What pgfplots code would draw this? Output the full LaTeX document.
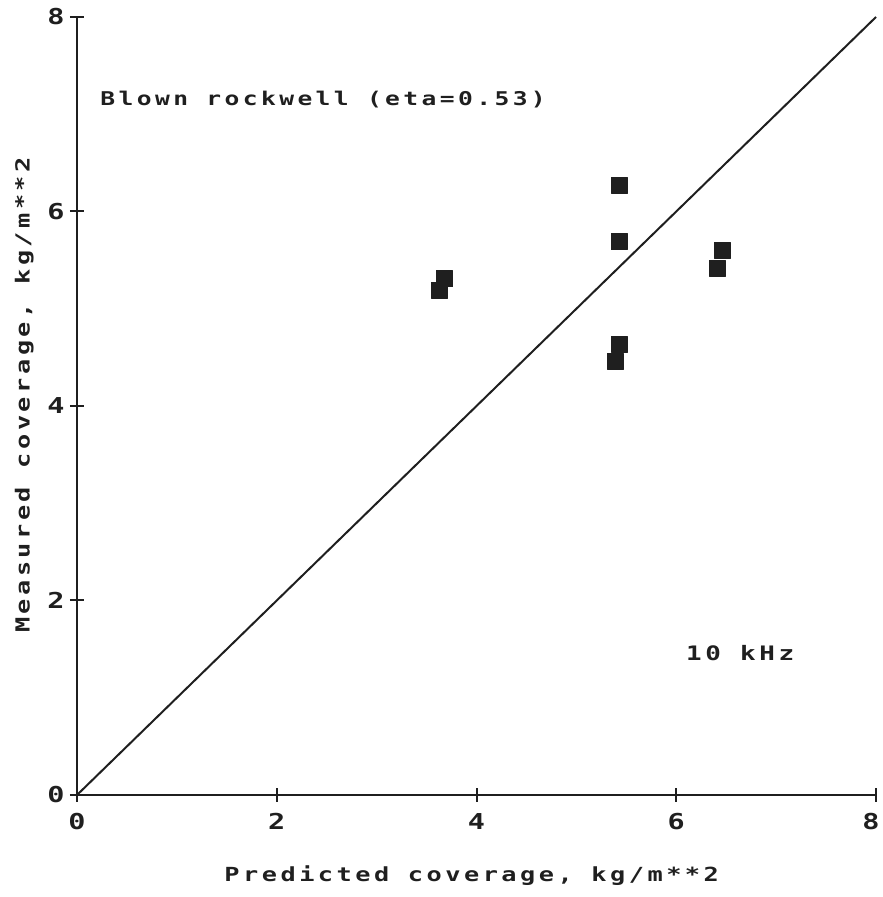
\documentclass[border=0pt]{standalone}
\usepackage{pgfplots}
\pgfplotsset{compat=1.18}
\usepackage{fontspec}
\setmainfont{DejaVu Sans Mono}[FakeStretch=1.3, LetterSpace=18]
\usetikzlibrary{calc}
\definecolor{ink}{gray}{0.12}
\begin{document}
\begin{tikzpicture}
\begin{axis}[name=ax,
  scale only axis, width=799bp, height=778bp,
  xmin=0, xmax=8, ymin=0, ymax=8,
  axis lines=left, axis line style={-, line width=2.8bp, ink},
  xtick={0,2,4,6,8}, ytick={0,2,4,6,8},
  xticklabels={0,2,4,6,{\hspace*{-10bp}8}},
  tick align=center, major tick length=14bp,
  tick style={line width=2bp, ink},
  /pgf/number format/assume math mode=true,
  tick label style={font=\fontsize{22}{26}\selectfont\bfseries, text=ink},
  xticklabel style={yshift=-8bp},
  yticklabel style={xshift=-2bp},
  xlabel={Predicted coverage, kg/m**2},
  ylabel={Measured coverage, kg/m**2},
  label style={font=\fontsize{19.5}{23}\selectfont\bfseries, text=ink},
  xlabel style={at={(rel axis cs:0.494,-0.103)}, anchor=center},
  ylabel style={at={(rel axis cs:-0.066,0.514)}, anchor=center},
  clip=false,
]
\addplot[ink, line width=2bp, no marks] coordinates {(0,0) (8,8)};
\addplot[only marks, mark=square*, mark size=8bp, ink, mark options={fill=ink, line join=round}] coordinates {
(5.43,6.27) (5.43,5.69) (6.46,5.60) (6.41,5.42) (3.68,5.31) (3.63,5.19) (5.43,4.64) (5.39,4.46)
};
\node[anchor=west, font=\fontsize{19}{22}\selectfont\bfseries, text=ink] at (axis cs:0.2,7.15) {Blown rockwell (eta=0.53)};
\node[anchor=center, font=\fontsize{20}{22}\selectfont\bfseries, text=ink] at (axis cs:6.64,1.46) {10 kHz};
\end{axis}
\pgfresetboundingbox
\useasboundingbox ($(ax.south west)+(-77bp,-102bp)$) rectangle ($(ax.north east)+(7bp,17bp)$);
\end{tikzpicture}
\end{document}
